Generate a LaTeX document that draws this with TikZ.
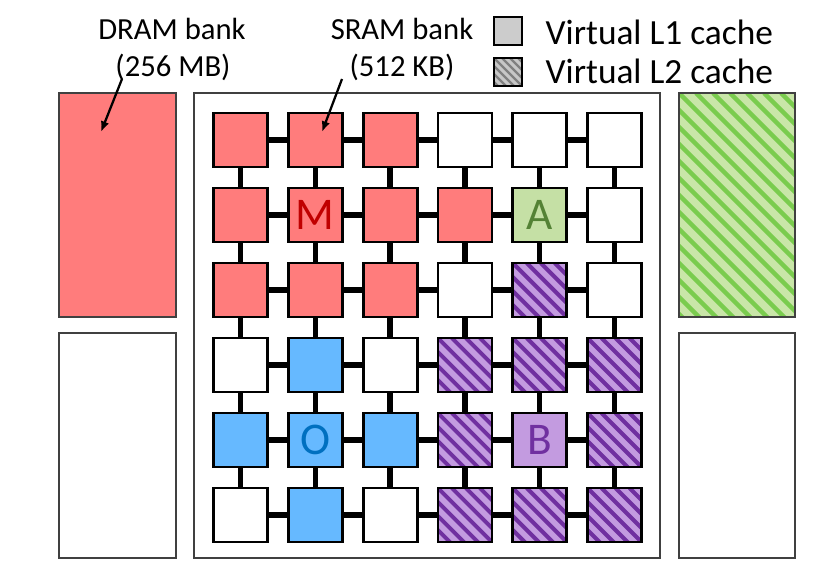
\documentclass[tikz,border=0pt]{standalone}
\usepackage{fontspec}
\setmainfont{Carlito}
\usetikzlibrary{calc,arrows.meta,positioning}
\definecolor{tilered}{RGB}{255,124,124}
\definecolor{tileblue}{RGB}{102,185,255}
\definecolor{tilegreen}{RGB}{197,224,165}
\definecolor{tilepurple}{RGB}{195,155,224}
\definecolor{stripepurple}{RGB}{112,48,160}
\definecolor{banggreen}{RGB}{201,230,168}
\definecolor{stripegreen}{RGB}{122,204,78}
\definecolor{letterred}{RGB}{192,0,0}
\definecolor{letterblue}{RGB}{0,112,192}
\definecolor{lettergreen}{RGB}{84,130,53}
\definecolor{boxgray}{RGB}{64,64,64}
\tikzset{
  hatch/.style n args={3}{path picture={
      \foreach \k in {-26,...,26}
        \draw[#1, line width=#3] ($(path picture bounding box.north west)+(\k*#2,0)$) -- ++(340,340);}},
  tile/.style={draw=black, line width=2.1pt, minimum size=40.5pt, inner sep=0pt, fill=white},
  wt/.style={fill=white},
  rd/.style={fill=tilered},
  bl/.style={fill=tileblue},
  gr/.style={fill=tilegreen},
  pu/.style={fill=tilepurple},
  ph/.style={fill=tilepurple, hatch={stripepurple}{14}{3pt}},
  wire/.style={draw=black, line width=4pt},
  bank/.style={draw=boxgray, line width=1.6pt},
  letter/.style={font=\fontsize{34}{34}\selectfont, inner sep=0pt},
  caption/.style={font=\fontsize{23}{26}\selectfont, anchor=base},
  legend/.style={font=\fontsize{26.5}{30}\selectfont, anchor=base west},
  pointer/.style={line width=1.7pt, -{Latex[length=8pt, width=6.5pt]}}
}
\begin{document}
\begin{tikzpicture}[x=0.75pt, y=-0.75pt]
\useasboundingbox (0,0) rectangle (822,570);
% banks on both sides and the chip
\draw[bank, fill=tilered] (59,93) rectangle (176,317);
\draw[bank] (59,333) rectangle (176,558);
\draw[bank, fill=banggreen, hatch={stripegreen}{17}{3.4pt}] (679,93) rectangle (795,317);
\draw[bank] (679,333) rectangle (795,558);
\draw[bank] (194,93) rectangle (660,558);
% tiles
\foreach \j/\kinds in {0/{rd,rd,rd,wt,wt,wt},
                       1/{rd,rd,rd,rd,gr,wt},
                       2/{rd,rd,rd,wt,ph,wt},
                       3/{wt,bl,wt,ph,ph,ph},
                       4/{bl,bl,bl,ph,pu,ph},
                       5/{wt,bl,wt,ph,ph,ph}}
  \foreach \kind [count=\i from 0] in \kinds
    \node[tile, \kind] (t-\i-\j) at (240.5+74.8*\i, 140+75*\j) {};
% mesh links
\foreach \j in {0,...,5}
  \foreach \i in {0,...,4} {
    \pgfmathtruncatemacro{\nxt}{\i+1}
    \path[wire] (t-\i-\j.east) -- (t-\nxt-\j.west);
    \path[wire] (t-\j-\i.south) -- (t-\j-\nxt.north);
  }
\node[letter, text=letterred] (M) at (t-1-1) {M};
\node[letter, text=lettergreen] (A) at (t-4-1) {A};
\node[letter, text=letterblue] (O) at (t-1-4) {O};
\node[letter, text=stripepurple] (B) at (t-4-4) {B};
% labels
\node[caption] (dram) at (172,40) {DRAM bank};
\node[caption] (dramsize) at (173,77) {(256 MB)};
\node[caption] (sram) at (402,40) {SRAM bank};
\node[caption] (sramsize) at (402,77) {(512 KB)};
\coordinate (dramtip) at (101,132);
\coordinate (sramtip) at (322,132);
\draw[pointer] (122,79) -- (dramtip);
\draw[pointer] (342,79) -- (sramtip);
% legend
\node[draw=black, line width=1.5pt, fill=black!20, minimum size=21pt, inner sep=0pt] (l1) at (508,31) {};
\node[draw=black, line width=1.5pt, fill=black!22, minimum size=21pt, inner sep=0pt,
      hatch={black!50}{8}{1.6pt}] (l2) at (508,72) {};
\node[legend] (l1text) at (541,45) {Virtual L1 cache};
\node[legend] (l2text) at (541,84) {Virtual L2 cache};
\end{tikzpicture}
\end{document}
